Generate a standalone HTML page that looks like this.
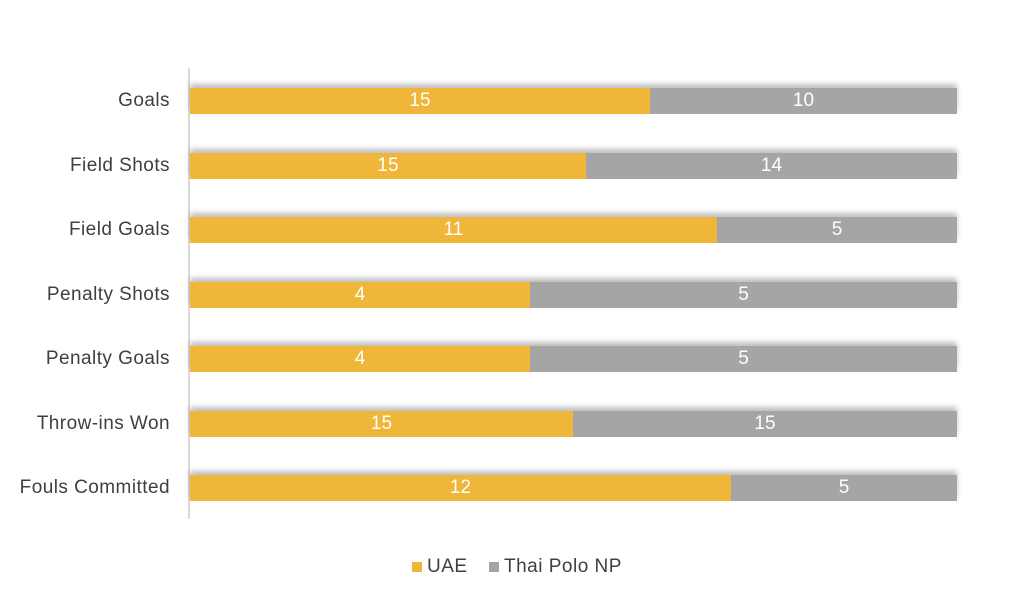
<!DOCTYPE html>
<html><head><style>
body{margin:0;width:1024px;height:603px;background:#fff;font-family:"Liberation Sans",sans-serif;position:relative;overflow:hidden}
.ax{position:absolute;left:188px;top:68px;width:2px;height:451px;background:#d9d9d9}
.lab{position:absolute;right:854px;font-size:19px;letter-spacing:0.45px;color:#404040;white-space:nowrap;transform:translateY(-50%)}
.bar{position:absolute;height:26px;box-shadow:0 -4px 5px rgba(0,0,0,0.25)}
.seg{position:absolute;top:0;height:26px;color:#fff;font-size:19px;line-height:26px;text-align:center}
.y{background:#F0B63A;left:0}.g{background:#A5A5A5}
.leg{position:absolute;top:556px;font-size:19px;letter-spacing:0.5px;color:#404040}
.sq{display:inline-block;width:10px;height:10px;margin-right:5px}
</style></head><body>
<div class="ax"></div>
<div id="c"></div>
<div class="leg" style="left:412px"><span class="sq" style="background:#F0B63A"></span>UAE</div>
<div class="leg" style="left:489px"><span class="sq" style="background:#A5A5A5"></span>Thai Polo NP</div>
<script>
var d=[["Goals",15,10,650,101],["Field Shots",15,14,586,166],["Field Goals",11,5,717,230],["Penalty Shots",4,5,530,295],["Penalty Goals",4,5,530,359],["Throw-ins Won",15,15,573,424],["Fouls Committed",12,5,731,488]];
var h="";d.forEach(function(r){var s=r[3]-190;
h+='<div class="lab" style="top:'+r[4]+'px">'+r[0]+'</div>';
h+='<div class="bar" style="left:190px;width:767px;top:'+(r[4]-13)+'px"><div class="seg y" style="width:'+s+'px">'+r[1]+'</div><div class="seg g" style="left:'+s+'px;width:'+(767-s)+'px">'+r[2]+'</div></div>';});
document.getElementById("c").innerHTML=h;
</script>
</body></html>
